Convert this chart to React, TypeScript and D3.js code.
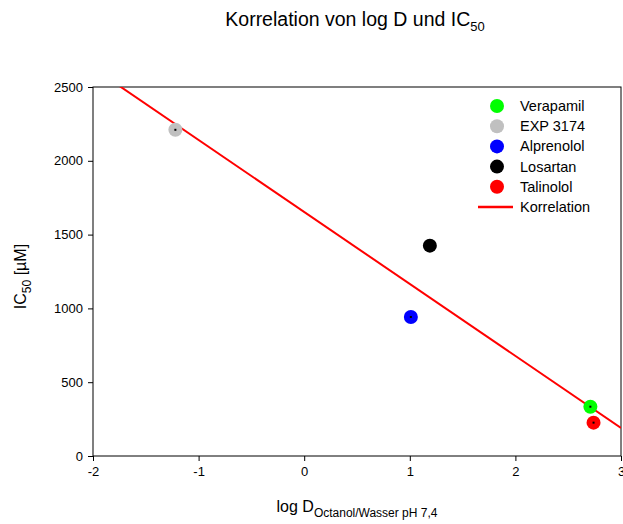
import { useRef, useEffect } from 'react';
import * as d3 from 'd3';

const compounds = ['Verapamil', 'EXP 3174', 'Alprenolol', 'Losartan', 'Talinolol'];
const logD = [2.71, -1.22, 1.01, 1.19, 2.74];
const ic50 = [334, 2210, 942, 1425, 226];
const colors = ['#00ff00', '#c0c0c0', '#0000ff', '#000000', '#ff0000'];

// Korrelation (linear fit)
const fitX = [-2, 3];
const fitY = [2629, 190];

const xTicks = [-2, -1, 0, 1, 2, 3];
const yTicks = [0, 500, 1000, 1500, 2000, 2500];

export default function App() {
  const svgRef = useRef<SVGSVGElement>(null);

  useEffect(() => {
    const svg = d3.select(svgRef.current);
    svg.selectAll('*').remove();
    const font = 'Liberation Sans, Arial, sans-serif';

    const left = 93, right = 621, top = 87, bottom = 456;
    const x = d3.scaleLinear().domain([-2, 3]).range([left, right]);
    const y = d3.scaleLinear().domain([0, 2500]).range([bottom, top]);

    svg.append('defs').append('clipPath').attr('id', 'plotclip')
      .append('rect').attr('x', left).attr('y', top)
      .attr('width', right - left).attr('height', bottom - top);

    // frame
    svg.append('rect')
      .attr('x', left).attr('y', top)
      .attr('width', right - left).attr('height', bottom - top)
      .attr('fill', 'none').attr('stroke', '#000').attr('stroke-width', 1);

    const xAxis = svg.append('g')
      .attr('transform', `translate(0,${bottom})`)
      .call(d3.axisBottom(x).tickValues(xTicks).tickSize(5).tickPadding(6).tickFormat((d) => String(d)));
    const yAxis = svg.append('g')
      .attr('transform', `translate(${left},0)`)
      .call(d3.axisLeft(y).tickValues(yTicks).tickSize(5).tickPadding(5).tickFormat((d) => String(d)));
    [xAxis, yAxis].forEach((a) => {
      a.select('.domain').remove();
      a.selectAll('text').attr('font-family', font).attr('font-size', 13).attr('fill', '#000');
      a.selectAll('line').attr('stroke', '#000');
    });

    // regression line
    const line = d3.line<number>()
      .x((d) => x(fitX[d]))
      .y((d) => y(fitY[d]));
    svg.append('path')
      .attr('d', line([0, 1]))
      .attr('clip-path', 'url(#plotclip)')
      .attr('fill', 'none').attr('stroke', '#ff0000').attr('stroke-width', 2);

    // points
    const idx = d3.range(compounds.length);
    svg.append('g').selectAll('circle')
      .data(idx).join('circle')
      .attr('cx', (i) => x(logD[i])).attr('cy', (i) => y(ic50[i]))
      .attr('r', 7).attr('fill', (i) => colors[i]);
    svg.append('g').selectAll('rect')
      .data(idx).join('rect')
      .attr('x', (i) => x(logD[i]) - 1).attr('y', (i) => y(ic50[i]) - 1)
      .attr('width', 2).attr('height', 2).attr('fill', '#000');

    // legend
    const lg = svg.append('g');
    idx.forEach((i) => {
      const yy = 106 + i * 20.2;
      lg.append('circle').attr('cx', 497).attr('cy', yy).attr('r', 7).attr('fill', colors[i]);
      lg.append('text').attr('x', 520).attr('y', yy).attr('dy', '0.35em')
        .attr('font-family', font).attr('font-size', 14.5).text(compounds[i]);
    });
    const ly = 106 + 5 * 20.2;
    lg.append('line').attr('x1', 478).attr('x2', 513).attr('y1', ly).attr('y2', ly)
      .attr('stroke', '#ff0000').attr('stroke-width', 2.5);
    lg.append('text').attr('x', 520).attr('y', ly).attr('dy', '0.35em')
      .attr('font-family', font).attr('font-size', 14.5).text('Korrelation');

    // title
    const title = svg.append('text').attr('x', 355).attr('y', 26)
      .attr('text-anchor', 'middle').attr('font-family', font).attr('font-size', 19.5);
    title.append('tspan').text('Korrelation von log D und IC');
    title.append('tspan').attr('font-size', 13).attr('dy', 5).text('50');

    // x label
    const xl = svg.append('text').attr('x', 357).attr('y', 512)
      .attr('text-anchor', 'middle').attr('font-family', font).attr('font-size', 16);
    xl.append('tspan').text('log D');
    xl.append('tspan').attr('font-size', 12).attr('dy', 5).text('Octanol/Wasser pH 7,4');

    // y label
    const yl = svg.append('text')
      .attr('transform', `translate(26,${(top + bottom) / 2 + 5}) rotate(-90)`)
      .attr('text-anchor', 'middle').attr('font-family', font).attr('font-size', 16);
    yl.append('tspan').text('IC');
    yl.append('tspan').attr('font-size', 12).attr('dy', 5).text('50');
    yl.append('tspan').attr('dy', -5).text(' [µM]');
  }, []);

  return (
    <svg ref={svgRef} width={623} height={524}
      style={{ position: 'absolute', left: 0, top: 0, background: '#fff' }} />
  );
}
